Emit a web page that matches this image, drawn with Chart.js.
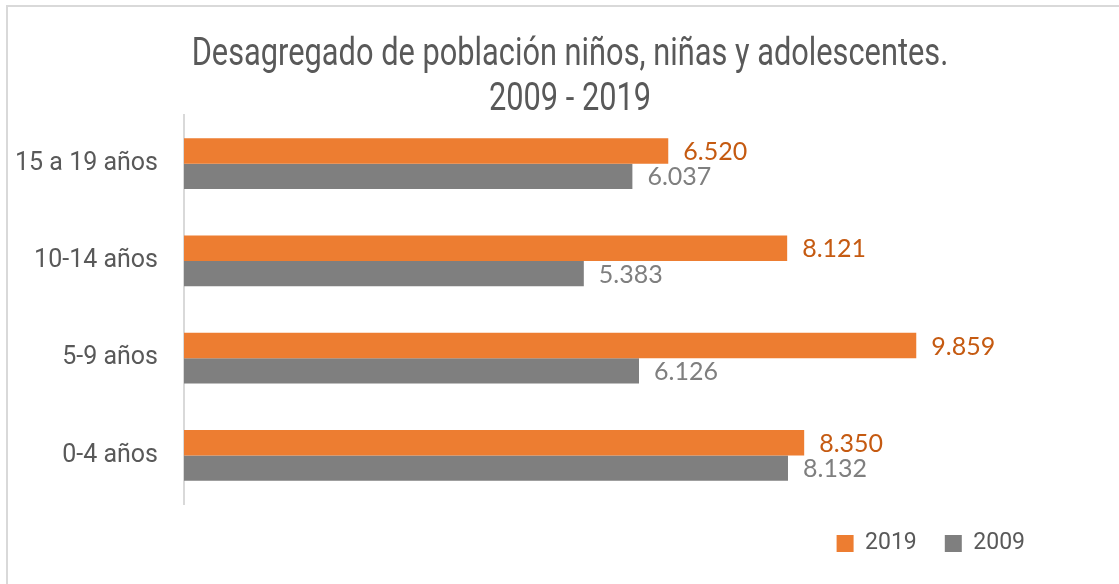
<!DOCTYPE html>
<html>
<head>
<meta charset="utf-8">
<script src="https://cdn.jsdelivr.net/npm/chart.js@4"></script>
<style>
  html, body { margin: 0; padding: 0; background: #fff; }
  #frame { position: absolute; left: 6px; top: 5px; width: 1200px; height: 700px;
           border: 2px solid #D9D9D9; box-sizing: border-box; }
  #wrap { position: absolute; left: 0; top: 0; width: 1119px; height: 584px; }
</style>
</head>
<body>
<div id="frame"></div>
<div id="wrap"><canvas id="c"></canvas></div>
<script>
/* datos */
const categorias = ['15 a 19 años', '10-14 años', '5-9 años', '0-4 años'];
const valores2019 = [6520, 8121, 9859, 8350];
const valores2009 = [6037, 5383, 6126, 8132];
const series = ['2019', '2009'];
const titulo = ['Desagregado de población niños, niñas y adolescentes.', '2009 - 2019'];

const FUENTE = 'Roboto, "Liberation Sans", sans-serif';

/* título con letra estrecha (se comprime en horizontal) */
const tituloEstrecho = {
  id: 'tituloEstrecho',
  afterDraw(chart) {
    const ctx = chart.ctx;
    ctx.save();
    ctx.font = '38px ' + FUENTE;
    ctx.fillStyle = '#595959';
    ctx.textAlign = 'center';
    ctx.textBaseline = 'middle';
    ctx.scale(0.81, 1);
    titulo.forEach((t, i) => ctx.fillText(t, 570 / 0.81, 55 + i * 45));
    ctx.restore();
  }
};

/* etiquetas de datos al final de cada barra (formato 6.520) */
const etiquetas = {
  id: 'etiquetas',
  afterDatasetsDraw(chart) {
    const ctx = chart.ctx;
    ctx.save();
    ctx.font = '25px Lato, sans-serif';
    ctx.textBaseline = 'middle';
    ctx.textAlign = 'left';
    chart.data.datasets.forEach((ds, i) => {
      ctx.fillStyle = ds.labelColor;
      chart.getDatasetMeta(i).data.forEach((bar, j) => {
        const txt = ds.data[j].toLocaleString('de-DE');
        ctx.fillText(txt, bar.x + 15, bar.y + 1);
      });
    });
    ctx.restore();
  }
};

new Chart(document.getElementById('c'), {
  type: 'bar',
  data: {
    labels: categorias,
    datasets: [
      { label: series[0], data: valores2019, backgroundColor: '#ED7D31', labelColor: '#C55A11' },
      { label: series[1], data: valores2009, backgroundColor: '#7F7F7F', labelColor: '#7F7F7F' }
    ]
  },
  options: {
    indexAxis: 'y',
    responsive: true,
    maintainAspectRatio: false,
    animation: false,
    categoryPercentage: 0.52,
    barPercentage: 1,
    layout: { padding: { left: 0, right: 66, top: 115, bottom: 19 } },
    scales: {
      x: { display: false, min: 0, max: 11700 },
      y: {
        grid: { display: false, drawTicks: false },
        border: { color: '#D9D9D9', width: 2 },
        ticks: { color: '#595959', padding: 26, font: { family: FUENTE, size: 25 } },
        afterFit(s) { s.width = 184; }
      }
    },
    plugins: {
      title: { display: false },
      legend: {
        position: 'bottom',
        align: 'end',
        labels: {
          color: '#595959',
          boxWidth: 17, boxHeight: 17,
          padding: 28,
          font: { family: FUENTE, size: 23 }
        }
      },
      tooltip: { enabled: false }
    }
  },
  plugins: [etiquetas, tituloEstrecho]
});
</script>
</body>
</html>
